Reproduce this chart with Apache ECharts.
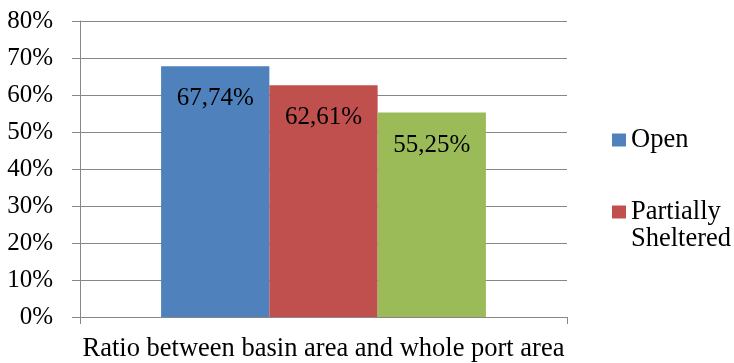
<!DOCTYPE html>
<html>
<head>
<meta charset="utf-8">
<script src="https://cdn.jsdelivr.net/npm/echarts@6/dist/echarts.min.js"></script>
<style>html,body{margin:0;padding:0;background:#fff;}#c{width:734px;height:363px;}</style>
</head>
<body>
<div id="c"></div>
<script>
var categories = ['Ratio between basin area and whole port area'];
var seriesNames = ['Open', 'Partially Sheltered', 'Sheltered'];
var openValues = [0.6774];
var partialValues = [0.6261];
var shelteredValues = [0.5525];
var yTicks = [0, 0.1, 0.2, 0.3, 0.4, 0.5, 0.6, 0.7, 0.8];

var FONT = 'Liberation Serif';
var colors = ['#4F81BD', '#C0504D', '#9BBB59'];
var gridColor = '#878787';

function pct(v, dec) {
  return (v * 100).toFixed(dec).replace('.', ',') + '%';
}

var labelCfg = {
  show: true,
  position: 'insideTop',
  distance: 20,
  fontFamily: FONT,
  fontSize: 25,
  lineHeight: 25,
  color: '#000',
  formatter: function (p) { return pct(p.value, 2); }
};

function mkSeries(name, data, color) {
  return {
    name: name,
    type: 'bar',
    data: data,
    itemStyle: { color: color },
    barGap: '0%',
    barCategoryGap: '33.3%',
    label: labelCfg,
    emphasis: { disabled: true }
  };
}

var legendText = { fontFamily: FONT, fontSize: 26.5, lineHeight: 27, color: '#000' };

var chart = echarts.init(document.getElementById('c'), null, { renderer: 'canvas' });
chart.setOption({
  animation: false,
  color: colors,
  grid: { left: 80, right: 167, top: 21, bottom: 46, containLabel: false },
  legend: [
    {
      data: [seriesNames[0]],
      orient: 'vertical',
      left: 612,
      top: 126.5,
      padding: 0,
      itemWidth: 14,
      itemHeight: 13,
      itemGap: 0,
      icon: 'rect',
      selectedMode: false,
      textStyle: legendText
    },
    {
      data: [seriesNames[1]],
      orient: 'vertical',
      left: 612,
      top: 171.5,
      padding: 0,
      itemWidth: 14,
      itemHeight: 13,
      itemGap: 0,
      icon: 'rect',
      selectedMode: false,
      formatter: function (n) { return '\n' + n.replace(' ', '\n'); },
      textStyle: legendText
    }
  ],
  xAxis: {
    type: 'category',
    data: categories,
    boundaryGap: true,
    axisLine: { lineStyle: { color: gridColor, width: 1 } },
    axisTick: { show: true, length: 7, alignWithLabel: false, lineStyle: { color: gridColor } },
    axisLabel: { margin: 19, fontFamily: FONT, fontSize: 26.5, color: '#000', interval: 0 },
    splitLine: { show: false }
  },
  yAxis: {
    type: 'value',
    min: yTicks[0],
    max: yTicks[yTicks.length - 1],
    interval: yTicks[1] - yTicks[0],
    axisLine: { show: true, lineStyle: { color: gridColor, width: 1 } },
    axisTick: { show: true, length: 8, lineStyle: { color: gridColor } },
    axisLabel: {
      margin: 27,
      fontFamily: FONT,
      fontSize: 25,
      color: '#000',
      formatter: function (v) { return Math.round(v * 100) + '%'; }
    },
    splitLine: { show: true, lineStyle: { color: gridColor, width: 1 } }
  },
  series: [
    mkSeries(seriesNames[0], openValues, colors[0]),
    mkSeries(seriesNames[1], partialValues, colors[1]),
    mkSeries(seriesNames[2], shelteredValues, colors[2])
  ]
});
</script>
</body>
</html>
